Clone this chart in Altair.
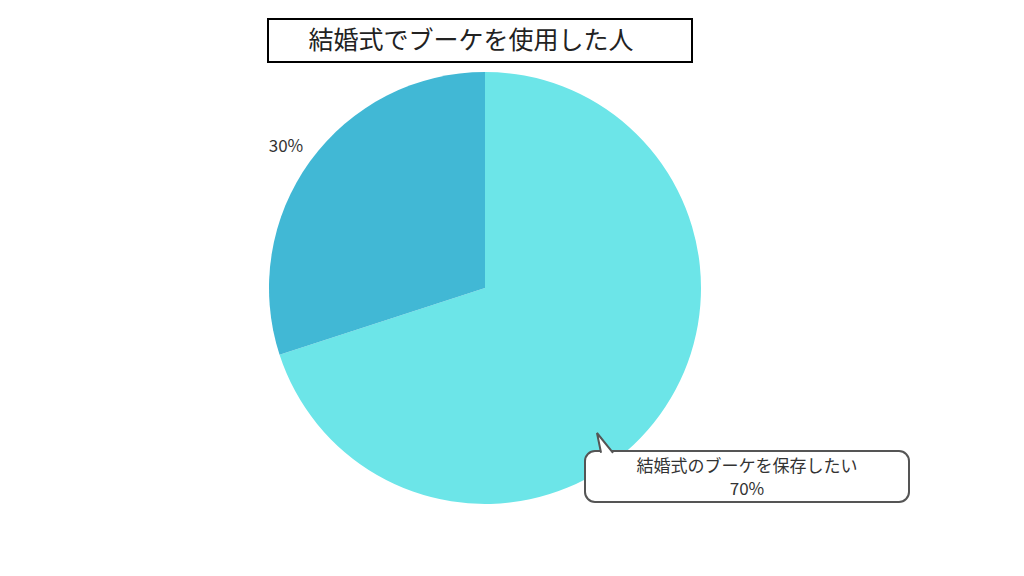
import altair as alt
import pandas as pd

# Data
categories = ["結婚式のブーケを保存したい", "その他"]
values = [70, 30]
labels = ["70%", "30%"]
colors = ["#6CE5E8", "#41B8D5"]
title_text = "結婚式でブーケを使用した人"

df = pd.DataFrame({"cat": categories, "val": values, "lab": labels, "idx": [0, 1]})
one = pd.DataFrame({"a": [0]})

FONT = "Noto Sans CJK JP"
OX, OY = 8, 8  # page margin

pie = alt.Chart(df).mark_arc(outerRadius=216).encode(
    theta=alt.Theta("val:Q", stack=True),
    color=alt.Color("cat:N", scale=alt.Scale(domain=categories, range=colors), legend=None),
    order=alt.Order("idx:Q"),
    x=alt.value(485 - OX),
    y=alt.value(288 - OY),
)

# title box
title_box = alt.Chart(one).mark_rect(fill="white", stroke="black", strokeWidth=2).encode(
    x=alt.value(268 - OX), x2=alt.value(692 - OX),
    y=alt.value(19 - OY), y2=alt.value(62 - OY),
)
title = alt.Chart(one).mark_text(font=FONT, fontSize=25, color="#222", align="center", baseline="middle").encode(
    x=alt.value(471 - OX), y=alt.value(41 - OY), text=alt.value(title_text)
)

# 30% label
lab30 = alt.Chart(df[df.idx == 1]).mark_text(font=FONT, fontSize=17, color="#333", align="center", baseline="middle").encode(
    x=alt.value(286 - OX), y=alt.value(147 - OY), text="lab:N"
)

# callout
callout_box = alt.Chart(one).mark_rect(fill="white", stroke="#555", strokeWidth=2, cornerRadius=10).encode(
    x=alt.value(585 - OX), x2=alt.value(909 - OX),
    y=alt.value(451 - OY), y2=alt.value(502 - OY),
)
pointer = alt.Chart(one).mark_point(
    shape="M-0.44,1.2 L-0.89,-1 L0.89,1.2", filled=True, fill="white", stroke="#555",
    strokeWidth=2, opacity=1, fillOpacity=1, strokeOpacity=1, size=324,
).encode(x=alt.value(605 - OX), y=alt.value(442 - OY))
callout_text1 = alt.Chart(df[df.idx == 0]).mark_text(font=FONT, fontSize=17, color="#333", align="center", baseline="middle").encode(
    x=alt.value(747 - OX), y=alt.value(467 - OY), text="cat:N"
)
callout_text2 = alt.Chart(df[df.idx == 0]).mark_text(font=FONT, fontSize=17, color="#333", align="center", baseline="middle").encode(
    x=alt.value(747 - OX), y=alt.value(490 - OY), text="lab:N"
)

chart = alt.layer(
    pie, title_box, title, lab30, callout_box, pointer, callout_text1, callout_text2
).properties(
    width=1008, height=560, autosize=alt.AutoSizeParams(type="none"), padding=0
).configure(background="white").configure_view(strokeWidth=0, stroke="transparent")

chart.save("out.html", embed_options={"renderer": "svg", "actions": False})
